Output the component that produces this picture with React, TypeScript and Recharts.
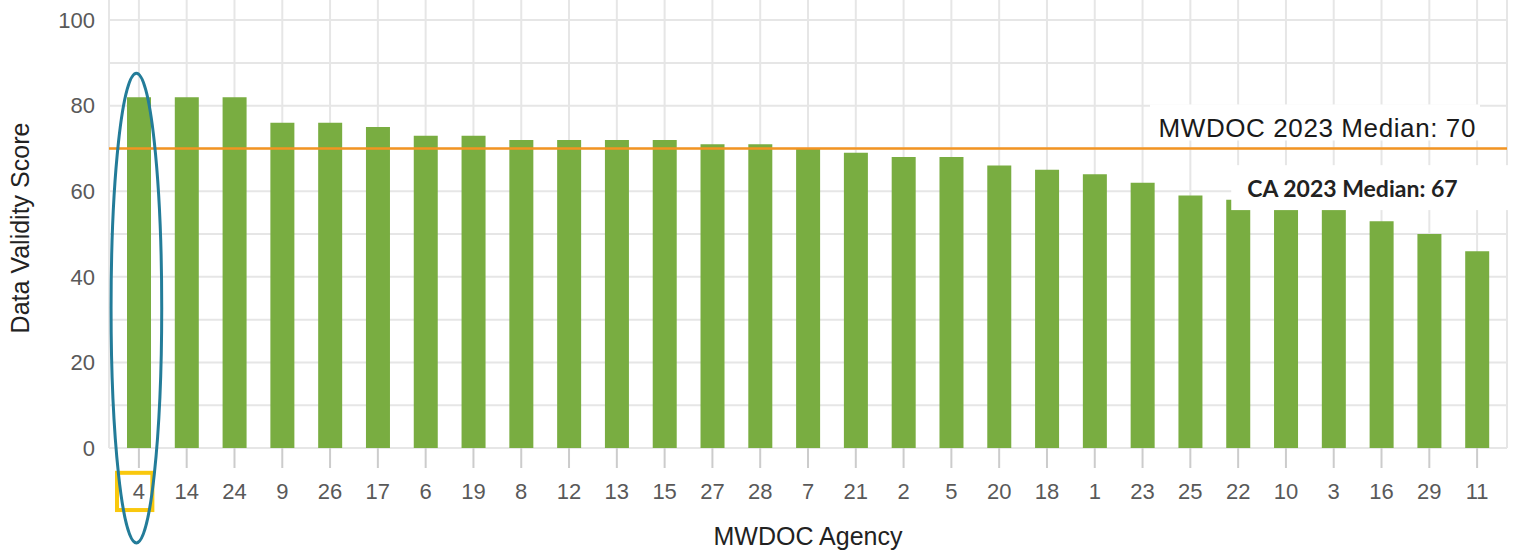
import React from "react";
import {
  BarChart,
  Bar,
  XAxis,
  YAxis,
  CartesianGrid,
  ReferenceLine,
  ReferenceArea,
  Label,
} from "recharts";

const agencies = [
  "4", "14", "24", "9", "26", "17", "6", "19", "8", "12", "13", "15", "27", "28", "7",
  "21", "2", "5", "20", "18", "1", "23", "25", "22", "10", "3", "16", "29", "11",
];
const scores = [
  82, 82, 82, 76, 76, 75, 73, 73, 72, 72, 72, 72, 71, 71, 70,
  69, 68, 68, 66, 65, 64, 62, 59, 58, 56, 56, 53, 50, 46,
];
const yTicks = [0, 20, 40, 60, 80, 100];
const gridValues = [0, 10, 20, 30, 40, 50, 60, 70, 80, 90, 100];
const mwdocMedian = 70;
const mwdocLabel = "MWDOC 2023 Median: 70";
const caLabel = "CA 2023 Median: 67";
const caBoxRange = [55.6, 66.1];
const highlightAgency = "4";
const ellipseRange = [-22.2, 87.6];
const boxRange = [-14.5, -5.8];

const data = agencies.map((a, i) => ({ agency: a, score: scores[i] }));

const FONT = "Liberation Sans, Arial, sans-serif";

const EllipseShape = (props: any) => {
  const { x, y, width, height } = props;
  const cx = x + width / 2 - 2.5;
  const cy = y + height / 2;
  return (
    <ellipse cx={cx} cy={cy} rx={width * 0.53} ry={height / 2} fill="none" stroke="#237C99" strokeWidth={3} />
  );
};

const BoxShape = (props: any) => {
  const { x, y, width, height } = props;
  return (
    <rect x={x + 2} y={y} width={width * 0.74} height={height} fill="none" stroke="#F9C80E" strokeWidth={4} />
  );
};

const CaShape = (props: any) => {
  const { x, y, width, height } = props;
  const bx = x + 17;
  const bw = width - 17 + 7;
  return (
    <g>
      <rect x={bx} y={y} width={bw} height={height} fill="#ffffff" />
      <text x={bx + 16} y={y + 32} fontFamily="Lato, Open Sans, sans-serif" fontWeight={700} fontSize={23} fill="#222222">
        {caLabel}
      </text>
    </g>
  );
};

const MwdocLabel = (props: any) => {
  const { viewBox } = props;
  const right = viewBox.x + viewBox.width - 31;
  const base = viewBox.y - 11;
  return (
    <g>
      <rect x={right - 326} y={base - 33} width={330} height={36} fill="#ffffff" />
      <text x={right} y={base} textAnchor="end" fontFamily={FONT} fontSize={26} letterSpacing={0.6} fill="#1a1a1a">
        {mwdocLabel}
      </text>
    </g>
  );
};

const YTitle = (props: any) => {
  const { viewBox } = props;
  const cx = 20;
  const cy = viewBox.y + viewBox.height / 2 + 4;
  return (
    <text x={cx} y={cy} transform={`rotate(-90, ${cx}, ${cy})`} textAnchor="middle" dominantBaseline="central" fontFamily={FONT} fontSize={25} fill="#222222">
      Data Validity Score
    </text>
  );
};

export default function App() {
  return (
    <div style={{ width: 1517, height: 554, fontFamily: FONT }}>
      <style>{`body{margin:0;background:#fff}`}</style>
      <BarChart
        width={1517}
        height={554}
        data={data}
        margin={{ top: 0, right: 10, bottom: 0, left: 0 }}
        barSize={24}
      >
        <CartesianGrid stroke="#e6e6e6" strokeWidth={2} horizontalValues={gridValues} />
        <XAxis
          dataKey="agency"
          height={106}
          padding={{ left: 6, right: 6 }}
          axisLine={false}
          stroke="#cccccc"
          tickSize={20}
          tickMargin={15}
          tickLine={{ stroke: "#cccccc", strokeWidth: 2 }}
          tick={{ fill: "#595959", fontSize: 22, fontFamily: FONT }}
          interval={0}
        >
          <Label value="MWDOC Agency" position="insideBottom" offset={9} style={{ fontFamily: FONT, fontSize: 25, fill: "#222222" }} />
        </XAxis>
        <YAxis
          width={109}
          domain={[0, 104.7]}
          ticks={yTicks}
          axisLine={false}
          tickLine={false}
          tickSize={0}
          tickMargin={14}
          tick={{ fill: "#595959", fontSize: 22, fontFamily: FONT }}
        >
          <Label content={YTitle} />
        </YAxis>
        <Bar dataKey="score" fill="#79AD41" isAnimationActive={false} />
        <ReferenceArea
          x1={agencies[23]}
          x2={agencies[28]}
          y1={caBoxRange[0]}
          y2={caBoxRange[1]}
          shape={CaShape}
          ifOverflow="visible"
          {...({ zIndex: 450 } as any)}
        />
        <ReferenceLine y={mwdocMedian} stroke="#F39422" strokeWidth={2.5} ifOverflow="visible" label={MwdocLabel} />
        <ReferenceArea x1={highlightAgency} x2={highlightAgency} y1={boxRange[0]} y2={boxRange[1]} shape={BoxShape} ifOverflow="visible" />
        <ReferenceArea
          x1={highlightAgency}
          x2={highlightAgency}
          y1={ellipseRange[0]}
          y2={ellipseRange[1]}
          shape={EllipseShape}
          ifOverflow="visible"
          {...({ zIndex: 460 } as any)}
        />
      </BarChart>
    </div>
  );
}
